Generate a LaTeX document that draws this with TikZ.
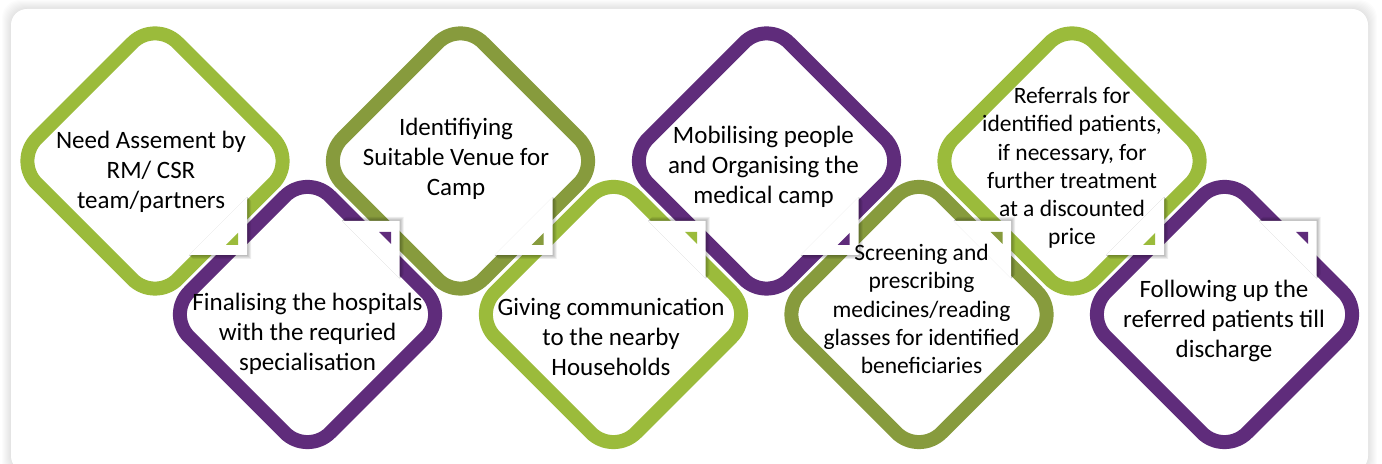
\documentclass[tikz,border=0pt]{standalone}
\usepackage{fontspec}
\setmainfont{Carlito}
\usetikzlibrary{shapes.geometric}
\definecolor{lgreen}{RGB}{155,187,59}
\definecolor{olivegreen}{RGB}{135,155,61}
\definecolor{campviolet}{RGB}{95,44,123}
\begin{document}
\begin{tikzpicture}[x=0.5pt, y=-0.5pt,
    stepshape/.style={diamond, draw, line width=7pt, rounded corners=16pt,
      minimum size=143.75pt, inner sep=0pt},
    steptext/.style={align=center, font=\fontsize{12.5}{15}\selectfont},
    smalltext/.style={align=center, font=\fontsize{11.75}{14.1}\selectfont},
    foldshade/.style={fill=black, opacity=0.07}]
  \useasboundingbox (0,0) rectangle (1382,464);
  % panel with soft shadow
  \fill[white] (0,0) rectangle (1382,464);
  \foreach \s in {1,...,9}
    \fill[black, opacity=0.013, rounded corners=9pt] (11-\s,9-\s) rectangle (1368+\s,472+\s);
  \fill[white, rounded corners=8pt] (11,9) rectangle (1368,472);
  % steps
  \node (d1) [stepshape, draw=lgreen] at (155,161) {};
  \node (d2) [stepshape, draw=campviolet] at (307.5,314.5) {};
  \node (d3) [stepshape, draw=olivegreen] at (460.5,161) {};
  \node (d4) [stepshape, draw=lgreen] at (613.5,314.5) {};
  \node (d5) [stepshape, draw=campviolet] at (766.5,161) {};
  \node (d6) [stepshape, draw=olivegreen] at (919,314.5) {};
  \node (d7) [stepshape, draw=lgreen] at (1072,161) {};
  \node (d8) [stepshape, draw=campviolet] at (1224.5,314.5) {};
  % folded corners
  \foreach \d/\c in {d1/lgreen, d3/olivegreen, d5/campviolet, d7/lgreen} {
    \begin{scope}[shift={(\d.center)}]
      \foreach \k in {1,...,4}
        \fill[foldshade] (92,36) -- (92+\k,36+\k) -- (92+\k,94+\k) -- (34+\k,94+\k) -- (34,94) -- cycle;
      \fill[white] (92,36) -- (92,94) -- (34,94) -- cycle;
      \fill[\c] (83,72) -- (83,84) -- (71,84) -- cycle;
    \end{scope}
  }
  \foreach \d/\c in {d2/campviolet, d4/lgreen, d6/olivegreen, d8/campviolet} {
    \begin{scope}[shift={(\d.center)}]
      \foreach \k in {1,...,4}
        \fill[foldshade] (34.5,-93.5) -- (34.5+\k,-93.5-\k) -- (92+\k,-93.5-\k) -- (92+\k,-36-\k) -- (92,-36) -- cycle;
      \fill[white] (34.5,-93.5) -- (92,-93.5) -- (92,-36) -- cycle;
      \fill[\c] (71.5,-82.5) -- (83.5,-82.5) -- (83.5,-70.5) -- cycle;
    \end{scope}
  }
  % texts
  \node (t1) [steptext] at (151,172) {Need Assement by\\RM/ CSR\\team/partners};
  \node (t2) [steptext] at (307.5,334) {Finalising the hospitals\\with the requried\\specialisation};
  \node (t3) [steptext] at (456,159) {Identifiying\\Suitable Venue for\\Camp};
  \node (t4) [steptext] at (611,337) {Giving communication\\to the nearby\\Households};
  \node (t5) [steptext] at (763.5,167) {Mobilising people\\and Organising the\\medical camp};
  \node (t6) [smalltext] at (921.5,309) {Screening and\\prescribing\\medicines/reading\\glasses for identified\\beneficiaries};
  \node (t7) [smalltext] at (1072,168) {Referrals for\\identified patients,\\if necessary, for\\further treatment\\at a discounted\\price};
  \node (t8) [steptext] at (1224,321) {Following up the\\referred patients till\\discharge};
\end{tikzpicture}
\end{document}
